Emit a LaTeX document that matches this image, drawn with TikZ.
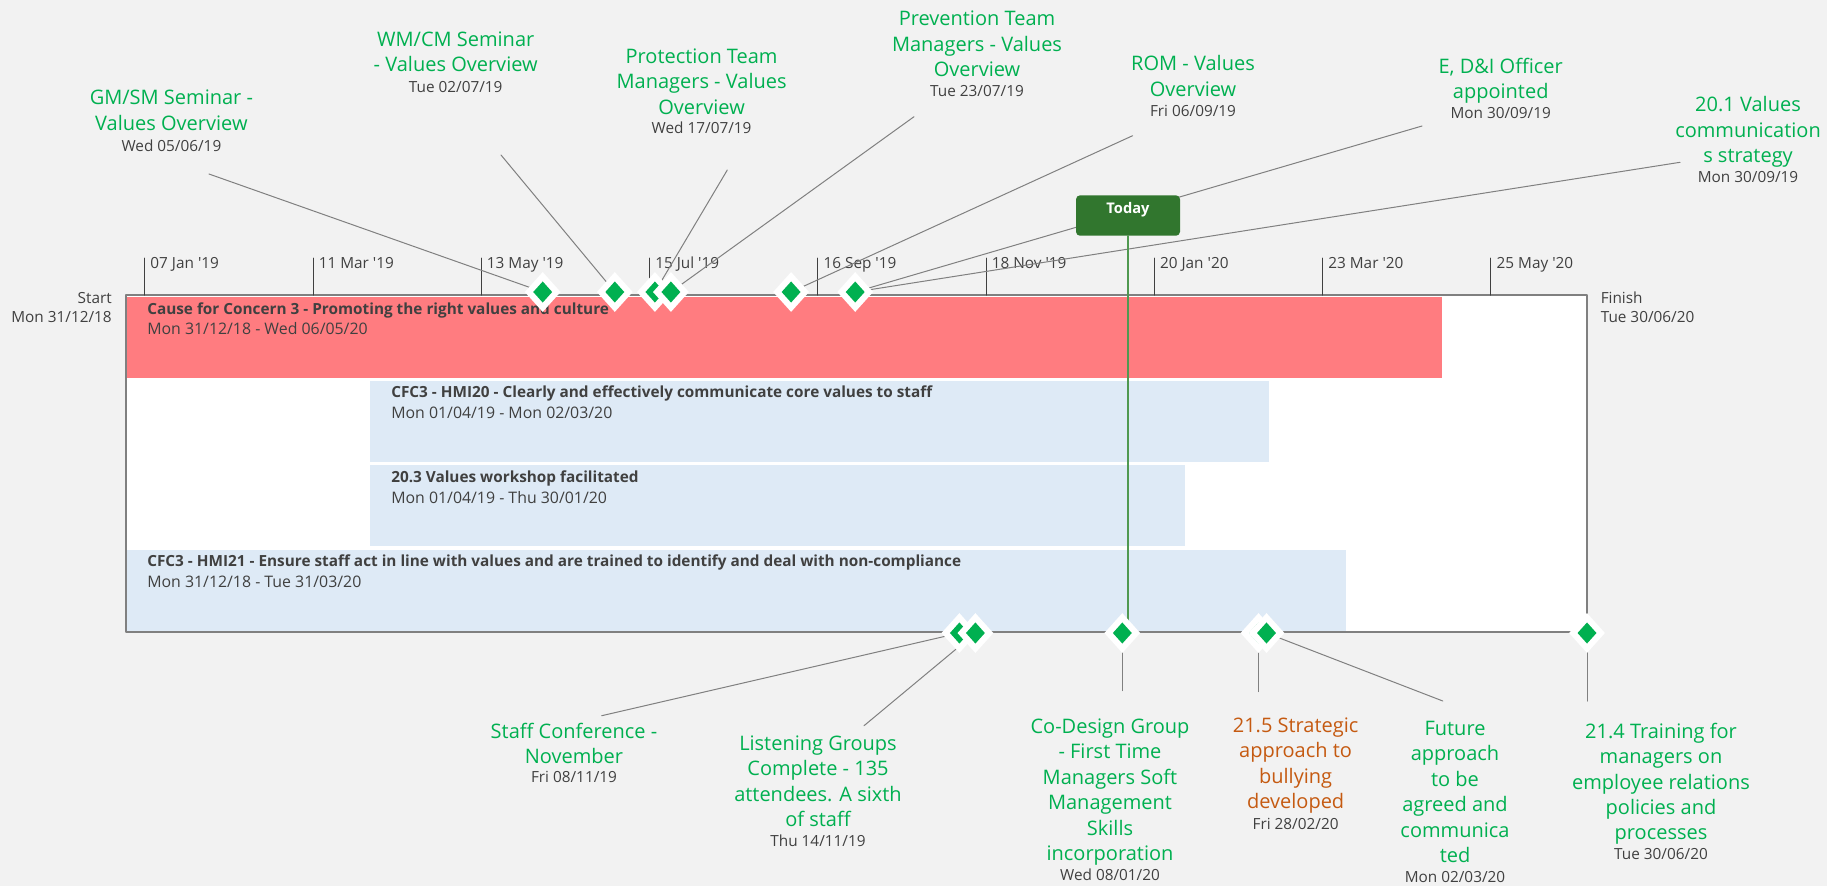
\documentclass[tikz,border=0pt]{standalone}
\usepackage{fontspec}
\setmainfont{Open Sans}
\usepackage{tikz}
\usetikzlibrary{calc}
\usetikzlibrary{shapes.geometric}
\definecolor{eeeeee}{rgb}{0.9490196078431372,0.9490196078431372,0.9490196078431372}
\definecolor{qqbbqq}{rgb}{0.,0.6901960784313725,0.3137254901960784}
\definecolor{ccwwqq}{rgb}{0.7725490196078432,0.35294117647058826,0.06666666666666667}
\definecolor{ffwwww}{rgb}{1.,0.48627450980392156,0.5019607843137255}
\definecolor{ddeeff}{rgb}{0.8705882352941177,0.9176470588235294,0.9647058823529412}
\definecolor{zzzzzz}{rgb}{0.25098039215686274,0.25098039215686274,0.25098039215686274}
\definecolor{wwwwww}{rgb}{0.5019607843137255,0.5019607843137255,0.5019607843137255}
\definecolor{zzwwzz}{rgb}{0.19215686274509805,0.4627450980392157,0.1803921568627451}
\definecolor{wwccww}{rgb}{0.3137254901960784,0.6,0.3137254901960784}
\tikzstyle{every node}=[inner sep=0pt,font=\fontsize{11.5}{14}\selectfont]
\tikzstyle{mslabel}=[align=center,anchor=north,text=qqbbqq,font=\fontsize{15}{19.1}\selectfont]
\tikzstyle{msdate}=[anchor=base,text=zzzzzz]
\tikzstyle{bartitle}=[anchor=base west,text=zzzzzz,font=\bfseries\fontsize{11.5}{14}\selectfont]
\tikzstyle{bardate}=[anchor=base west,text=zzzzzz,font=\fontsize{11.9}{14}\selectfont]
\tikzstyle{ticklabel}=[anchor=base west,text=zzzzzz]
\tikzstyle{leader}=[line width=0.75pt,color=wwwwww]
\tikzstyle{milestone}=[diamond,fill=white,inner sep=0pt,minimum width=27pt,minimum height=30pt,
  path picture={\fill[color=qqbbqq] ([xshift=-7.1pt]path picture bounding box.center) -- ([yshift=7.9pt]path picture bounding box.center) -- ([xshift=7.1pt]path picture bounding box.center) -- ([yshift=-7.9pt]path picture bounding box.center) -- cycle;}]
\tikzstyle{todaybox}=[anchor=south,fill=zzwwzz,rounded corners=3pt,text=white,font=\bfseries\fontsize{11}{13}\selectfont,minimum width=78pt,text height=13.3pt,text depth=17pt]

\begin{document}
\begin{tikzpicture}[line cap=round,line join=round,x=0.75pt,y=-0.75pt]
\fill[color=eeeeee] (0,0) rectangle (1827,886);
\useasboundingbox (0,0) rectangle (1827,886);
% frame and bars
\coordinate (fnw) at (126,295);
\coordinate (fse) at (1587,632);
\draw[line width=1.1pt,color=wwwwww,fill=white] (fnw) rectangle (fse);
\fill[color=ffwwww] (127,297) rectangle (1442,378);
\fill[color=ddeeff] (370,381) rectangle (1269,462);
\fill[color=ddeeff] (370,465) rectangle (1185,546);
\fill[color=ddeeff] (127,550) rectangle (1346,631);
\node[bartitle] (b1) at (147,314) {Cause for Concern 3 - Promoting the right values and culture};
\node[bardate] (b1d) at (147,334.3) {Mon 31/12/18 - Wed 06/05/20};
\node[bartitle] (b2) at (391,397.7) {CFC3 - HMI20 - Clearly and effectively communicate core values to staff};
\node[bardate] (b2d) at (391,418) {Mon 01/04/19 - Mon 02/03/20};
\node[bartitle] (b3) at (391,482.7) {20.3 Values workshop facilitated};
\node[bardate] (b3d) at (391,503) {Mon 01/04/19 - Thu 30/01/20};
\node[bartitle] (b4) at (147,566.7) {CFC3 - HMI21 - Ensure staff act in line with values and are trained to identify and deal with non-compliance};
\node[bardate] (b4d) at (147,587) {Mon 31/12/18 - Tue 31/03/20};
% start and finish
\node[anchor=base east,text=zzzzzz] (st) at (112,303) {Start};
\node[anchor=base east,text=zzzzzz] (std) at (112,322) {Mon 31/12/18};
\node[anchor=base west,text=zzzzzz] (fi) at (1600.5,303) {Finish};
\node[anchor=base west,text=zzzzzz] (fid) at (1600.5,322) {Tue 30/06/20};
% timescale
\draw[line width=0.75pt,color=zzzzzz] (144.7,258) -- (144.7,295);
\draw[line width=0.75pt,color=zzzzzz] (313.0,258) -- (313.0,295);
\draw[line width=0.75pt,color=zzzzzz] (481.2,258) -- (481.2,295);
\draw[line width=0.75pt,color=zzzzzz] (649.5,258) -- (649.5,295);
\draw[line width=0.75pt,color=zzzzzz] (817.8,258) -- (817.8,295);
\draw[line width=0.75pt,color=zzzzzz] (986.1,258) -- (986.1,295);
\draw[line width=0.75pt,color=zzzzzz] (1154.3,258) -- (1154.3,295);
\draw[line width=0.75pt,color=zzzzzz] (1322.6,258) -- (1322.6,295);
\draw[line width=0.75pt,color=zzzzzz] (1490.9,258) -- (1490.9,295);
\node[ticklabel] (k1) at (150.2,268.8) {07 Jan \textquotesingle19};
\node[ticklabel] (k2) at (318.5,268.8) {11 Mar \textquotesingle19};
\node[ticklabel] (k3) at (486.7,268.8) {13 May \textquotesingle19};
\node[ticklabel] (k4) at (655.0,268.8) {15 Jul \textquotesingle19};
\node[ticklabel] (k5) at (823.3,268.8) {16 Sep \textquotesingle19};
\node[ticklabel] (k6) at (991.6,268.8) {18 Nov \textquotesingle19};
\node[ticklabel] (k7) at (1159.8,268.8) {20 Jan \textquotesingle20};
\node[ticklabel] (k8) at (1328.1,268.8) {23 Mar \textquotesingle20};
\node[ticklabel] (k9) at (1496.4,268.8) {25 May \textquotesingle20};
% milestones
\coordinate (m1) at (542.7,292);
\coordinate (m2) at (614.8,292);
\coordinate (m3) at (654.9,292);
\coordinate (m4) at (670.9,292);
\coordinate (m5) at (791.1,292);
\coordinate (m6) at (855.2,292);
\coordinate (m7) at (959.4,633);
\coordinate (m8) at (975.4,633);
\coordinate (m9) at (1122.3,633);
\coordinate (m10) at (1258.5,633);
\coordinate (m11) at (1266.5,633);
\coordinate (m12) at (1587.0,633);
% labels above
\node[mslabel] (t1) at (171.4,90) {GM/SM Seminar -\\Values Overview};
\node[msdate] (t1d) at (171.4,151) {Wed 05/06/19};
\node[mslabel] (t2) at (455.7,31.5) {WM/CM Seminar\\- Values Overview};
\node[msdate] (t2d) at (455.7,92) {Tue 02/07/19};
\node[mslabel] (t3) at (701.6,48.5) {Protection Team\\Managers - Values\\Overview};
\node[msdate] (t3d) at (701.6,133.6) {Wed 17/07/19};
\node[mslabel] (t4) at (977,11) {Prevention Team\\Managers - Values\\Overview};
\node[msdate] (t4d) at (977,96) {Tue 23/07/19};
\node[mslabel] (t5) at (1193,55.2) {ROM - Values\\Overview};
\node[msdate] (t5d) at (1193,116) {Fri 06/09/19};
\node[mslabel] (t6) at (1500.7,57.5) {E, D\&I Officer\\appointed};
\node[msdate] (t6d) at (1500.7,118) {Mon 30/09/19};
\node[mslabel] (t7) at (1748,96.5) {20.1 Values\\communication\\s strategy};
\node[msdate] (t7d) at (1748,182) {Mon 30/09/19};
% labels below
\node[mslabel] (u1) at (574,722.5) {Staff Conference -\\November};
\node[msdate] (u1d) at (574,782.6) {Fri 08/11/19};
\node[mslabel] (u2) at (818,735.2) {Listening Groups\\Complete - 135\\attendees. A sixth\\of staff};
\node[msdate] (u2d) at (818,846) {Thu 14/11/19};
\node[mslabel] (u3) at (1110,718.2) {Co-Design Group\\- First Time\\Managers Soft\\Management\\Skills\\incorporation};
\node[msdate] (u3d) at (1110,880.3) {Wed 08/01/20};
\node[mslabel,text=ccwwqq] (u4) at (1295.6,717.5) {21.5 Strategic\\approach to\\bullying\\developed};
\node[msdate] (u4d) at (1295.6,829.6) {Fri 28/02/20};
\node[mslabel] (u5) at (1455,720.8) {Future\\approach\\to be\\agreed and\\communica\\ted};
\node[msdate] (u5d) at (1455,882) {Mon 02/03/20};
\node[mslabel] (u6) at (1661,722.5) {21.4 Training for\\managers on\\employee relations\\policies and\\processes};
\node[msdate] (u6d) at (1661,859.6) {Tue 30/06/20};
% leaders
\coordinate (t1e) at (209,174);
\coordinate (t2e) at (501,155);
\coordinate (t3e) at (727.3,170);
\coordinate (t4e) at (914,116.7);
\coordinate (t5e) at (1132.6,135.7);
\coordinate (t6e) at (1422,126);
\coordinate (t7e) at (1680,162.3);
\coordinate (u1e) at (601.7,715.7);
\coordinate (u2e) at (864,725.7);
\coordinate (u3e) at (1122.3,690.7);
\coordinate (u4e) at (1258.5,691.7);
\coordinate (u5e) at (1442.8,701);
\coordinate (u6e) at (1587,701);
\draw[leader] (t1e) -- (m1);
\draw[leader] (t2e) -- (m2);
\draw[leader] (t3e) -- (m3);
\draw[leader] (t4e) -- (m4);
\draw[leader] (t5e) -- (m5);
\draw[leader] (t6e) -- (m6);
\draw[leader] (t7e) -- (m6);
\draw[leader] (u1e) -- (m7);
\draw[leader] (u2e) -- (m8);
\draw[leader] (u3e) -- (m9);
\draw[leader] (u4e) -- (m10);
\draw[leader] (u5e) -- (m11);
\draw[leader] (u6e) -- (m12);
% today
\coordinate (now) at (1128,236);
\coordinate (nowend) at (1128,632);
\draw[line width=0.9pt,color=wwccww] (now) -- (nowend);
\node[todaybox] (today) at (now) {Today};
% diamonds
\node[milestone] (d1) at (m1) {};
\node[milestone] (d2) at (m2) {};
\node[milestone] (d3) at (m3) {};
\node[milestone] (d4) at (m4) {};
\node[milestone] (d5) at (m5) {};
\node[milestone] (d6) at (m6) {};
\node[milestone] (d7) at (m7) {};
\node[milestone] (d8) at (m8) {};
\node[milestone] (d9) at (m9) {};
\node[milestone] (d10) at (m10) {};
\node[milestone] (d11) at (m11) {};
\node[milestone] (d12) at (m12) {};
\end{tikzpicture}
\end{document}
